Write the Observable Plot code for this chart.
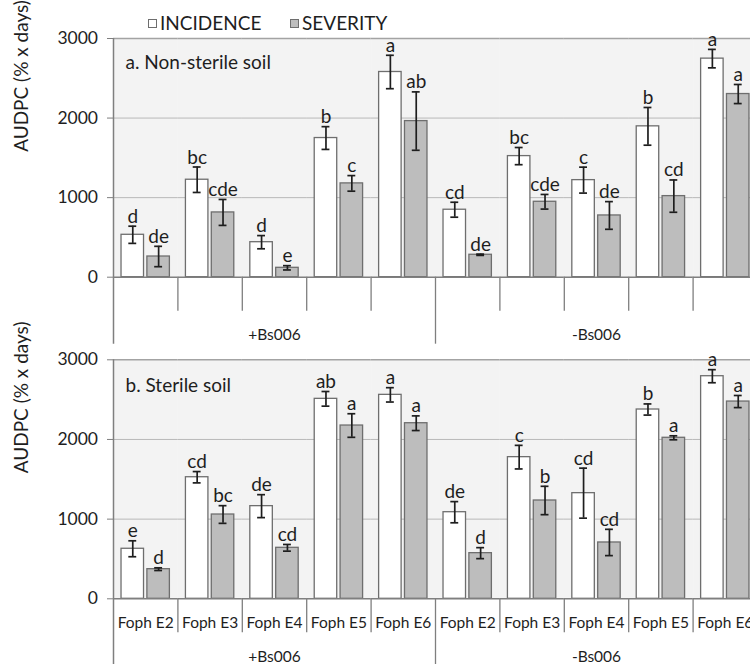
<!DOCTYPE html>
<html>
<head>
<meta charset="utf-8">
<script src="https://cdn.jsdelivr.net/npm/d3@7"></script>
<script src="https://cdn.jsdelivr.net/npm/@observablehq/plot@0.6"></script>
<style>
  html, body { margin: 0; padding: 0; background: #fff; overflow: hidden; }
  #chart { position: relative; width: 750px; height: 664px; overflow: hidden; font-family: Lato, sans-serif; color: #1e1e1e; }
  .legend-item { position: absolute; top: 12px; display: flex; align-items: center; font-size: 19px; line-height: 22px; white-space: nowrap; }
  .sw { width: 7px; height: 7px; border: 1px solid #6e6e6e; margin-right: 3px; }
</style>
</head>
<body>
<div id="chart"></div>
<script>
// ---------- data ----------
const series = ["INCIDENCE", "SEVERITY"];
const treatments = ["+Bs006", "-Bs006"];
const isolates = ["Foph E2", "Foph E3", "Foph E4", "Foph E5", "Foph E6"];
const panelTitles = ["a. Non-sterile soil", "b. Sterile soil"];
const yTicks = [0, 1000, 2000, 3000];
const yLabel = "AUDPC (% x days)";

// order: +Bs006 E2..E6, then -Bs006 E2..E6
// a. Non-sterile soil
const nonSterileIncidence    = [533, 1225, 440, 1749, 2579, 848, 1522, 1220, 1896, 2747];
const nonSterileIncidenceErr = [108, 160, 83, 143, 210, 94, 108, 163, 237, 116];
const nonSterileIncidenceLet = ["d", "bc", "d", "b", "a", "cd", "bc", "c", "b", "a"];
const nonSterileSeverity     = [260, 814, 118, 1179, 1962, 282, 948, 776, 1019, 2302];
const nonSterileSeverityErr  = [128, 163, 27, 98, 367, 8, 92, 174, 203, 120];
const nonSterileSeverityLet  = ["de", "cde", "e", "c", "ab", "de", "cde", "de", "cd", "a"];
// b. Sterile soil
const sterileIncidence    = [628, 1526, 1163, 2510, 2560, 1087, 1778, 1326, 2376, 2794];
const sterileIncidenceErr = [100, 71, 144, 92, 90, 133, 148, 314, 70, 82];
const sterileIncidenceLet = ["e", "cd", "de", "ab", "a", "de", "c", "cd", "b", "a"];
const sterileSeverity     = [372, 1058, 640, 2175, 2204, 573, 1234, 707, 2021, 2476];
const sterileSeverityErr  = [17, 111, 42, 148, 92, 69, 178, 165, 25, 76];
const sterileSeverityLet  = ["d", "bc", "cd", "a", "a", "d", "b", "cd", "a", "a"];

// ---------- build ----------
const keys = treatments.flatMap(t => isolates.map(i => t + "|" + i));
function makeRows(inc, incErr, incLet, sev, sevErr, sevLet) {
  return keys.flatMap((k, j) => [
    {key: k, series: series[0], value: inc[j], err: incErr[j], letter: incLet[j]},
    {key: k, series: series[1], value: sev[j], err: sevErr[j], letter: sevLet[j]}
  ]);
}
const panels = [
  {rows: makeRows(nonSterileIncidence, nonSterileIncidenceErr, nonSterileIncidenceLet, nonSterileSeverity, nonSterileSeverityErr, nonSterileSeverityLet),
   title: panelTitles[0], top: 0, height: 350, marginTop: 38, marginBottom: 73.3, titleDy: 17, showCats: false, longDepth: 67},
  {rows: makeRows(sterileIncidence, sterileIncidenceErr, sterileIncidenceLet, sterileSeverity, sterileSeverityErr, sterileSeverityLet),
   title: panelTitles[1], top: 350, height: 314, marginTop: 9.3, marginBottom: 65.7, titleDy: 19, showCats: true, longDepth: 80}
];

const W = 760, ML = 113, MR = 3;
const step = (W - ML - MR) / keys.length;
const ink = "#1e1e1e";
const axisGray = "#7f7f7f";

const chart = document.getElementById("chart");

// legend
const legendItems = [
  {label: series[0], fill: "#ffffff", left: 148},
  {label: series[1], fill: "#bdbdbd", left: 290}
];
for (const it of legendItems) {
  const d = document.createElement("div");
  d.className = "legend-item";
  d.style.left = it.left + "px";
  const sw = document.createElement("span");
  sw.className = "sw";
  sw.style.background = it.fill;
  const tx = document.createElement("span");
  tx.textContent = it.label;
  d.appendChild(sw); d.appendChild(tx);
  chart.appendChild(d);
}

for (const p of panels) {
  const frameH = p.height - p.marginTop - p.marginBottom;
  const shortKeys = keys.filter((k, j) => j !== 0 && j !== 5);
  const marks = [
    Plot.frame({fill: "#f3f3f3", stroke: "#f3f3f3"}),
    Plot.ruleY([1000, 2000], {stroke: "#b8b8b8", strokeWidth: 1}),
    Plot.ruleY([3000], {stroke: "#a3a3a3", strokeWidth: 1.4}),
    Plot.barY(p.rows, {fx: "key", x: "series", y: "value", fill: "series", stroke: "#6e6e6e", strokeWidth: 1.3}),
    Plot.ruleX(p.rows, {fx: "key", x: "series", y1: d => d.value - d.err, y2: d => d.value + d.err, stroke: ink, strokeWidth: 1.7}),
    Plot.tickY(p.rows, {fx: "key", x: "series", y: d => d.value + d.err, insetLeft: 7.3, insetRight: 7.3, stroke: ink, strokeWidth: 1.7}),
    Plot.tickY(p.rows, {fx: "key", x: "series", y: d => d.value - d.err, insetLeft: 7.3, insetRight: 7.3, stroke: ink, strokeWidth: 1.7}),
    Plot.text(p.rows, {fx: "key", x: "series", y: d => d.value + d.err, text: "letter", lineAnchor: "bottom", dy: -3.5, fontSize: 19, fill: ink}),
    Plot.ruleY([0], {stroke: axisGray, strokeWidth: 1.5}),
    // category table dividers below the axis
    Plot.ruleX(shortKeys, {fx: d => d, x: null, dx: -step / 2, insetTop: frameH, insetBottom: -34, stroke: axisGray, strokeWidth: 1.3}),
    Plot.ruleX([keys[5]], {fx: d => d, x: null, dx: -step / 2, insetTop: frameH, insetBottom: -p.longDepth, stroke: axisGray, strokeWidth: 1.3}),
    Plot.ruleX([keys[0]], {fx: d => d, x: null, dx: -step / 2, insetTop: 0, insetBottom: -p.longDepth, stroke: axisGray, strokeWidth: 1.5}),
    Plot.axisY(yTicks, {anchor: "left", tickSize: 6, tickPadding: 9.5, stroke: axisGray, fill: ink, fontSize: 17.5, label: null, tickFormat: d => String(d)}),
    Plot.text([{key: keys[0], label: yLabel}], {fx: "key", text: "label", frameAnchor: "left", rotate: -90, dx: -92, dy: -6, fontSize: 19, fill: ink}),
    Plot.text([{key: keys[0], label: p.title}], {fx: "key", text: "label", frameAnchor: "top-left", textAnchor: "start", lineAnchor: "top", dx: 12, dy: p.titleDy, fontSize: 19, fill: ink}),
    Plot.text([{key: keys[2], label: treatments[0]}, {key: keys[7], label: treatments[1]}],
      {fx: "key", text: "label", frameAnchor: "bottom", lineAnchor: "top", dy: 52, fontSize: 15.5, fill: ink})
  ];
  if (p.showCats) {
    marks.push(Plot.axisFx({anchor: "bottom", tickSize: 0, tickPadding: 18, tickFormat: k => k.split("|")[1], fontSize: 15.5, fill: ink, label: null}));
  }
  const svg = Plot.plot({
    width: W,
    height: p.height,
    marginLeft: ML,
    marginRight: MR,
    marginTop: p.marginTop,
    marginBottom: p.marginBottom,
    style: {fontFamily: "Lato, sans-serif", fontSize: "19px", color: ink, background: "transparent", maxWidth: "none", overflow: "visible"},
    fx: {domain: keys, padding: 0, round: false, axis: p.showCats ? undefined : null, label: null},
    x: {domain: series, paddingInner: 0.13, paddingOuter: 0.31, round: false, axis: null},
    y: {domain: [0, 3000]},
    color: {domain: series, range: ["#ffffff", "#bdbdbd"]},
    marks
  });
  svg.style.position = "absolute";
  svg.style.left = "0px";
  svg.style.top = p.top + "px";
  chart.appendChild(svg);
}
</script>
</body>
</html>
